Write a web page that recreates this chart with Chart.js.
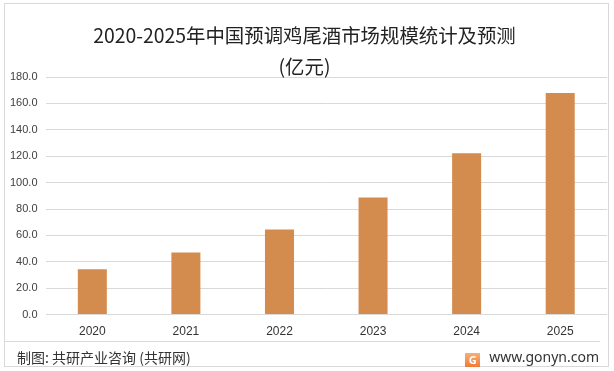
<!DOCTYPE html>
<html>
<head>
<meta charset="utf-8">
<script src="https://cdn.jsdelivr.net/npm/chart.js@4.4.0/dist/chart.umd.min.js"></script>
<style>
  body { margin: 0; background: #fff; font-family: "Noto Sans CJK SC", sans-serif; }
  #page { position: relative; width: 614px; height: 371px; overflow: hidden; }
  #frame { position: absolute; left: 4px; top: 3px; width: 605px; height: 364px; box-sizing: border-box; border: 1px solid #d9d9d9; }
  #chartBox { position: absolute; left: 0; top: 0; width: 614px; height: 351px; }
  #sep { position: absolute; left: 5px; top: 341px; width: 595px; height: 0; border-top: 1px solid #d9d9d9; }
  #source { position: absolute; left: 17px; top: 347px; font-size: 14px; line-height: 20px; color: #333; }
  #site { position: absolute; right: 15px; top: 346px; font-size: 14px; line-height: 22px; color: #333; font-family: "Noto Sans", sans-serif; }
  #logo { display: inline-block; width: 15px; height: 14px; background: linear-gradient(#f6b07a, #ef7a36); color: #fff; font-size: 11px; line-height: 14px; text-align: center; font-weight: bold; margin-right: 9px; vertical-align: -2px; }
</style>
</head>
<body>
<div id="page">
  <div id="frame"></div>
  <div id="chartBox"><canvas id="myChart"></canvas></div>
  <div id="sep"></div>
  <span id="source">制图: 共研产业咨询 (共研网)</span>
  <span id="site"><span id="logo">G</span>www.gonyn.com</span>
</div>
<script>
var years = ["2020", "2021", "2022", "2023", "2024", "2025"];
var marketSize = [34.3, 47.1, 64.5, 88.8, 122.2, 167.8];
var titleLines = ["2020-2025年中国预调鸡尾酒市场规模统计及预测", "(亿元)"];

var ctx = document.getElementById("myChart").getContext("2d");
var chart = new Chart(ctx, {
  type: "bar",
  data: {
    labels: years,
    datasets: [
      {
        label: "市场规模",
        backgroundColor: "rgb(211, 140, 78)",
        data: marketSize,
        barPercentage: 0.31,
        categoryPercentage: 1
      }
    ]
  },
  options: {
    responsive: true,
    maintainAspectRatio: false,
    animation: false,
    layout: { padding: { left: 2, right: 7, top: 0, bottom: 2 } },
    plugins: {
      legend: { display: false },
      tooltip: { enabled: false },
      title: {
        display: true,
        text: titleLines,
        color: "#222",
        font: { size: 19.4, family: "'Noto Sans CJK SC', sans-serif", weight: "normal", lineHeight: 31 / 19.4 },
        padding: { top: 20, bottom: -5 }
      }
    },
    scales: {
      x: {
        grid: { display: false, drawTicks: false },
        border: { display: false },
        ticks: { color: "#333", font: { size: 12 }, padding: 10 }
      },
      y: {
        min: 0,
        max: 180,
        ticks: {
          stepSize: 20,
          color: "#404040",
          font: { size: 11 },
          padding: 8,
          callback: function (v) { return v.toFixed(1); }
        },
        grid: { color: "#d9d9d9", drawTicks: false },
        border: { display: false }
      }
    }
  }
});
</script>
</body>
</html>
